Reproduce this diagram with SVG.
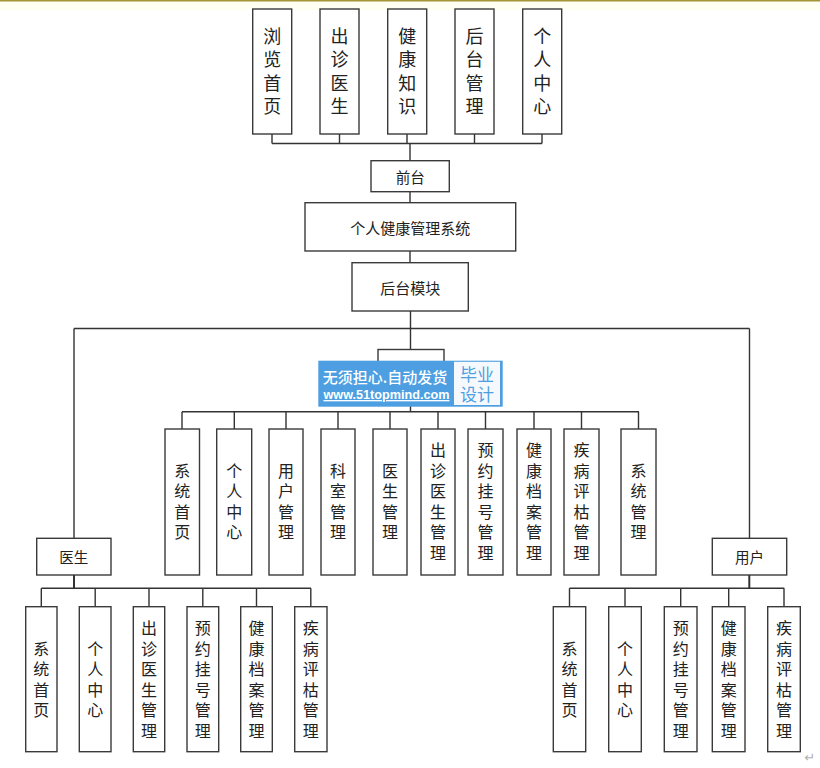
<svg xmlns="http://www.w3.org/2000/svg" width="820" height="768" viewBox="0 0 820 768">
<style>
.bx{fill:#fff;stroke:#3a3a3a;stroke-width:1.4}
.ln{fill:none;stroke:#333;stroke-width:1.4}
.t{font-family:"Noto Sans CJK SC","Noto Sans",sans-serif;fill:#222;text-anchor:middle;dominant-baseline:central}
.v18{font-size:18px}
.v16{font-size:16px}
.h15{font-size:14.5px}
</style>
<rect x="0" y="0" width="820" height="768" fill="#fff"/>
<rect x="0" y="1" width="820" height="9" fill="#fffff2"/>
<line x1="0" y1="0.8" x2="820" y2="0.8" stroke="#a59436" stroke-width="1.6"/>

<g id="connectors" class="ln">
  <path d="M272,134V143.5M339.5,134V143.5M407,134V143.5M474.5,134V143.5M542,134V143.5M272,143.5H542M410,143.5V160.7"/>
  <path d="M410,191.7V202.7M410,251V262.7M410.5,311V349.5"/>
  <path d="M74,328.5H749.5M74,328.5V538.3M749.5,328.5V538.3"/>
  <path d="M410.5,400V411.7M182,411.7H639"/>
  <path d="M182,411.7V429M234.3,411.7V429M286,411.7V429M338,411.7V429M390,411.7V429M438,411.7V429M485.5,411.7V429M534,411.7V429M581.5,411.7V429M638.5,411.7V429"/>
  <path d="M74,575V588.3" stroke-width="2"/>
  <path d="M41.3,588.3H311M41.3,588.3V606.7M95.2,588.3V606.7M149,588.3V606.7M202.8,588.3V606.7M256.5,588.3V606.7M310.8,588.3V606.7"/>
  <path d="M749.3,575V588.3" stroke-width="2"/>
  <path d="M569.5,588.3H784.3M569.5,588.3V606.7M625,588.3V606.7M680.7,588.3V606.7M728.7,588.3V606.7M784,588.3V606.7"/>
</g>

<!-- top row -->
<g id="n-browse"><rect class="bx" x="252.7" y="9" width="39" height="125"/>
<text class="t v18"><tspan x="272.2" y="34.8">浏</tspan><tspan x="272.2" y="58.3">览</tspan><tspan x="272.2" y="81.8">首</tspan><tspan x="272.2" y="105.3">页</tspan></text></g>
<g id="n-visit"><rect class="bx" x="320" y="9" width="39" height="125"/>
<text class="t v18"><tspan x="339.5" y="34.8">出</tspan><tspan x="339.5" y="58.3">诊</tspan><tspan x="339.5" y="81.8">医</tspan><tspan x="339.5" y="105.3">生</tspan></text></g>
<g id="n-know"><rect class="bx" x="387.7" y="9" width="39" height="125"/>
<text class="t v18"><tspan x="407.2" y="34.8">健</tspan><tspan x="407.2" y="58.3">康</tspan><tspan x="407.2" y="81.8">知</tspan><tspan x="407.2" y="105.3">识</tspan></text></g>
<g id="n-admin-entry"><rect class="bx" x="455" y="9" width="39" height="125"/>
<text class="t v18"><tspan x="474.5" y="34.8">后</tspan><tspan x="474.5" y="58.3">台</tspan><tspan x="474.5" y="81.8">管</tspan><tspan x="474.5" y="105.3">理</tspan></text></g>
<g id="n-personal"><rect class="bx" x="522.7" y="9" width="39" height="125"/>
<text class="t v18"><tspan x="542.2" y="34.8">个</tspan><tspan x="542.2" y="58.3">人</tspan><tspan x="542.2" y="81.8">中</tspan><tspan x="542.2" y="105.3">心</tspan></text></g>

<g id="n-front"><rect class="bx" x="371" y="160.7" width="78.3" height="31"/>
<text class="t h15" x="410.2" y="176.2">前台</text></g>
<g id="n-system"><rect class="bx" x="305" y="202.7" width="210.7" height="48.3"/>
<text class="t" style="font-size:15px" x="410.3" y="227">个人健康管理系统</text></g>
<g id="n-backend"><rect class="bx" x="352" y="262.7" width="116.3" height="48.3"/>
<text class="t" style="font-size:15px" x="410.2" y="287">后台模块</text></g>

<g id="n-hidden"><rect class="bx" x="378" y="349.5" width="66" height="50.5"/></g>

<!-- admin row -->
<g id="a1"><rect class="bx" x="165" y="429" width="34.5" height="146"/>
<text class="t v16"><tspan x="182.2" y="469.6">系</tspan><tspan x="182.2" y="490.2">统</tspan><tspan x="182.2" y="510.8">首</tspan><tspan x="182.2" y="531.4">页</tspan></text></g>
<g id="a2"><rect class="bx" x="216.7" y="429" width="35" height="146"/>
<text class="t v16"><tspan x="234.2" y="469.6">个</tspan><tspan x="234.2" y="490.2">人</tspan><tspan x="234.2" y="510.8">中</tspan><tspan x="234.2" y="531.4">心</tspan></text></g>
<g id="a3"><rect class="bx" x="269" y="429" width="34" height="146"/>
<text class="t v16"><tspan x="286" y="469.6">用</tspan><tspan x="286" y="490.2">户</tspan><tspan x="286" y="510.8">管</tspan><tspan x="286" y="531.4">理</tspan></text></g>
<g id="a4"><rect class="bx" x="321" y="429" width="34" height="146"/>
<text class="t v16"><tspan x="338" y="469.6">科</tspan><tspan x="338" y="490.2">室</tspan><tspan x="338" y="510.8">管</tspan><tspan x="338" y="531.4">理</tspan></text></g>
<g id="a5"><rect class="bx" x="373" y="429" width="34" height="146"/>
<text class="t v16"><tspan x="390" y="469.6">医</tspan><tspan x="390" y="490.2">生</tspan><tspan x="390" y="510.8">管</tspan><tspan x="390" y="531.4">理</tspan></text></g>
<g id="a6"><rect class="bx" x="421" y="429" width="34" height="146"/>
<text class="t v16"><tspan x="438" y="449">出</tspan><tspan x="438" y="469.6">诊</tspan><tspan x="438" y="490.2">医</tspan><tspan x="438" y="510.8">生</tspan><tspan x="438" y="531.4">管</tspan><tspan x="438" y="552">理</tspan></text></g>
<g id="a7"><rect class="bx" x="468" y="429" width="35" height="146"/>
<text class="t v16"><tspan x="485.5" y="449">预</tspan><tspan x="485.5" y="469.6">约</tspan><tspan x="485.5" y="490.2">挂</tspan><tspan x="485.5" y="510.8">号</tspan><tspan x="485.5" y="531.4">管</tspan><tspan x="485.5" y="552">理</tspan></text></g>
<g id="a8"><rect class="bx" x="517" y="429" width="34" height="146"/>
<text class="t v16"><tspan x="534" y="449">健</tspan><tspan x="534" y="469.6">康</tspan><tspan x="534" y="490.2">档</tspan><tspan x="534" y="510.8">案</tspan><tspan x="534" y="531.4">管</tspan><tspan x="534" y="552">理</tspan></text></g>
<g id="a9"><rect class="bx" x="564" y="429" width="35" height="146"/>
<text class="t v16"><tspan x="581.5" y="449">疾</tspan><tspan x="581.5" y="469.6">病</tspan><tspan x="581.5" y="490.2">评</tspan><tspan x="581.5" y="510.8">枯</tspan><tspan x="581.5" y="531.4">管</tspan><tspan x="581.5" y="552">理</tspan></text></g>
<g id="a10"><rect class="bx" x="621" y="429" width="35" height="146"/>
<text class="t v16"><tspan x="638.5" y="469.6">系</tspan><tspan x="638.5" y="490.2">统</tspan><tspan x="638.5" y="510.8">管</tspan><tspan x="638.5" y="531.4">理</tspan></text></g>

<!-- doctor -->
<g id="n-doctor"><rect class="bx" x="36.7" y="538.3" width="74.3" height="36.7"/>
<text class="t h15" x="73.8" y="556.7">医生</text></g>
<g id="d1"><rect class="bx" x="25.7" y="606.7" width="31.3" height="145"/>
<text class="t v16"><tspan x="41.3" y="647.6">系</tspan><tspan x="41.3" y="668.2">统</tspan><tspan x="41.3" y="688.8">首</tspan><tspan x="41.3" y="709.4">页</tspan></text></g>
<g id="d2"><rect class="bx" x="79.3" y="606.7" width="31.7" height="145"/>
<text class="t v16"><tspan x="95.2" y="647.6">个</tspan><tspan x="95.2" y="668.2">人</tspan><tspan x="95.2" y="688.8">中</tspan><tspan x="95.2" y="709.4">心</tspan></text></g>
<g id="d3"><rect class="bx" x="133.3" y="606.7" width="31.4" height="145"/>
<text class="t v16"><tspan x="149" y="627">出</tspan><tspan x="149" y="647.6">诊</tspan><tspan x="149" y="668.2">医</tspan><tspan x="149" y="688.8">生</tspan><tspan x="149" y="709.4">管</tspan><tspan x="149" y="730">理</tspan></text></g>
<g id="d4"><rect class="bx" x="187" y="606.7" width="31.7" height="145"/>
<text class="t v16"><tspan x="202.8" y="627">预</tspan><tspan x="202.8" y="647.6">约</tspan><tspan x="202.8" y="668.2">挂</tspan><tspan x="202.8" y="688.8">号</tspan><tspan x="202.8" y="709.4">管</tspan><tspan x="202.8" y="730">理</tspan></text></g>
<g id="d5"><rect class="bx" x="240.7" y="606.7" width="31.6" height="145"/>
<text class="t v16"><tspan x="256.5" y="627">健</tspan><tspan x="256.5" y="647.6">康</tspan><tspan x="256.5" y="668.2">档</tspan><tspan x="256.5" y="688.8">案</tspan><tspan x="256.5" y="709.4">管</tspan><tspan x="256.5" y="730">理</tspan></text></g>
<g id="d6"><rect class="bx" x="294.7" y="606.7" width="32.3" height="145"/>
<text class="t v16"><tspan x="310.8" y="627">疾</tspan><tspan x="310.8" y="647.6">病</tspan><tspan x="310.8" y="668.2">评</tspan><tspan x="310.8" y="688.8">枯</tspan><tspan x="310.8" y="709.4">管</tspan><tspan x="310.8" y="730">理</tspan></text></g>

<!-- user -->
<g id="n-user"><rect class="bx" x="712.3" y="538.3" width="74.4" height="36.7"/>
<text class="t h15" x="749.5" y="556.7">用户</text></g>
<g id="u1"><rect class="bx" x="553.3" y="606.7" width="32.4" height="145"/>
<text class="t v16"><tspan x="569.5" y="647.6">系</tspan><tspan x="569.5" y="668.2">统</tspan><tspan x="569.5" y="688.8">首</tspan><tspan x="569.5" y="709.4">页</tspan></text></g>
<g id="u2"><rect class="bx" x="608.7" y="606.7" width="32.6" height="145"/>
<text class="t v16"><tspan x="625" y="647.6">个</tspan><tspan x="625" y="668.2">人</tspan><tspan x="625" y="688.8">中</tspan><tspan x="625" y="709.4">心</tspan></text></g>
<g id="u3"><rect class="bx" x="664.3" y="606.7" width="32.7" height="145"/>
<text class="t v16"><tspan x="680.7" y="627">预</tspan><tspan x="680.7" y="647.6">约</tspan><tspan x="680.7" y="668.2">挂</tspan><tspan x="680.7" y="688.8">号</tspan><tspan x="680.7" y="709.4">管</tspan><tspan x="680.7" y="730">理</tspan></text></g>
<g id="u4"><rect class="bx" x="712.3" y="606.7" width="32.7" height="145"/>
<text class="t v16"><tspan x="728.7" y="627">健</tspan><tspan x="728.7" y="647.6">康</tspan><tspan x="728.7" y="668.2">档</tspan><tspan x="728.7" y="688.8">案</tspan><tspan x="728.7" y="709.4">管</tspan><tspan x="728.7" y="730">理</tspan></text></g>
<g id="u5"><rect class="bx" x="767.7" y="606.7" width="32.6" height="145"/>
<text class="t v16"><tspan x="784" y="627">疾</tspan><tspan x="784" y="647.6">病</tspan><tspan x="784" y="668.2">评</tspan><tspan x="784" y="688.8">枯</tspan><tspan x="784" y="709.4">管</tspan><tspan x="784" y="730">理</tspan></text></g>

<text x="810" y="757" style="font-family:'DejaVu Sans',sans-serif;font-size:13px;fill:#b0b0b0;text-anchor:middle;dominant-baseline:central">↵</text>

<!-- watermark -->
<g id="watermark">
  <rect x="318.3" y="360.7" width="184.4" height="46" fill="#4d9fe2"/>
  <rect x="454" y="361.8" width="46" height="43.2" fill="#f5f9fd"/>
  <text x="385" y="376.7" style="font-family:'Noto Sans CJK SC',sans-serif;font-size:15px;font-weight:500;fill:#fff;text-anchor:middle;dominant-baseline:central">无须担心.自动发货</text>
  <text x="323.5" y="399" textLength="126" lengthAdjust="spacingAndGlyphs" style="font-family:'Liberation Sans',sans-serif;font-size:13.5px;font-weight:bold;fill:#fff;text-decoration:underline">www.51topmind.com</text>
  <text x="477" y="373.3" style="font-family:'Noto Sans CJK SC',sans-serif;font-size:17px;fill:#4d9fe2;text-anchor:middle;dominant-baseline:central">毕业</text>
  <text x="477" y="393.5" style="font-family:'Noto Sans CJK SC',sans-serif;font-size:17px;fill:#4d9fe2;text-anchor:middle;dominant-baseline:central">设计</text>
</g>
</svg>
